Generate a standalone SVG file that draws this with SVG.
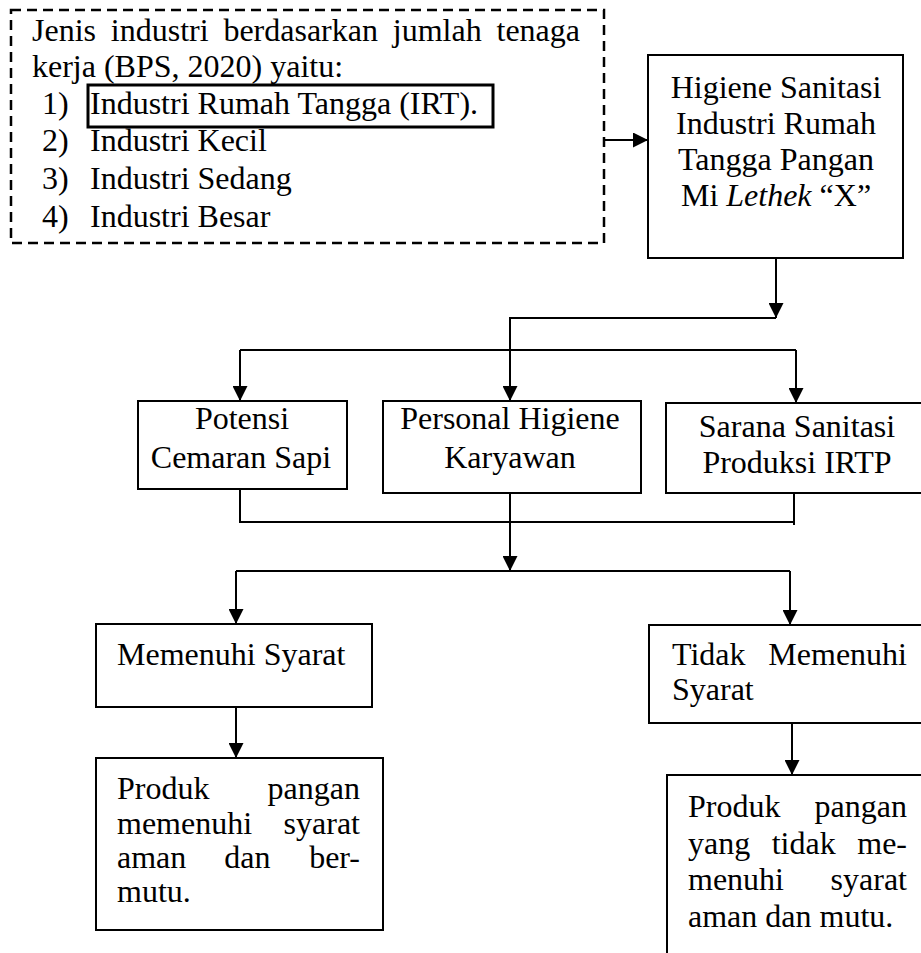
<svg xmlns="http://www.w3.org/2000/svg" width="921" height="953" viewBox="0 0 921 953">
<style>
text{font-family:"Liberation Serif","Times New Roman",serif;font-size:32px;fill:#000}
.box{fill:#fff;stroke:#000;stroke-width:2}
.dash{fill:#fff;stroke:#000;stroke-width:2.5;stroke-dasharray:10 6}
.hl{fill:none;stroke:#000;stroke-width:3}
.c{text-anchor:middle}
.e{text-anchor:end}
#connectors path{fill:none;stroke:#000;stroke-width:2}
</style>
<defs>
<marker id="ah" markerUnits="userSpaceOnUse" viewBox="0 0 14 14" markerWidth="15" markerHeight="15" refX="14" refY="7" orient="auto">
<path d="M0,0 L14,7 L0,14 z" fill="#000"/>
</marker>
</defs>
<rect width="921" height="953" fill="#fff"/>

<g id="connectors">
<path d="M604,140 H648" marker-end="url(#ah)"/>
<path d="M776,258 V318" marker-end="url(#ah)"/>
<path d="M776,318 H510 V401" marker-end="url(#ah)"/>
<path d="M240,350 H796"/>
<path d="M240,350 V401" marker-end="url(#ah)"/>
<path d="M796,350 V403" marker-end="url(#ah)"/>
<path d="M240,489 V522 H794 V493"/>
<path d="M794,522 V525"/>
<path d="M510,493 V571" marker-end="url(#ah)"/>
<path d="M236,571 H790"/>
<path d="M236,571 V624" marker-end="url(#ah)"/>
<path d="M790,571 V625" marker-end="url(#ah)"/>
<path d="M236,707 V758" marker-end="url(#ah)"/>
<path d="M792,723 V775" marker-end="url(#ah)"/>
</g>

<g id="jenis">
<rect class="dash" x="11" y="10" width="593" height="233"/>
<text y="41"><tspan x="32">Jenis</tspan><tspan x="110.8">industri</tspan><tspan x="223.4">berdasarkan</tspan><tspan x="392.8">jumlah</tspan><tspan x="496.5">tenaga</tspan></text>
<text x="32" y="77">kerja (BPS, 2020) yaitu:</text>
<text x="42" y="114">1)</text>
<text x="90" y="114">Industri Rumah Tangga (IRT).</text>
<rect class="hl" x="88" y="85" width="405" height="42"/>
<text x="42" y="151">2)</text>
<text x="90" y="151">Industri Kecil</text>
<text x="42" y="189">3)</text>
<text x="90" y="189">Industri Sedang</text>
<text x="42" y="227">4)</text>
<text x="90" y="227">Industri Besar</text>
</g>

<g id="higiene">
<rect class="box" x="648" y="55" width="255" height="203"/>
<text class="c" x="776" y="98">Higiene Sanitasi</text>
<text class="c" x="776" y="134">Industri Rumah</text>
<text class="c" x="776" y="170">Tangga Pangan</text>
<text class="c" x="776" y="206">Mi <tspan font-style="italic">Lethek</tspan> “X”</text>
</g>

<g id="potensi">
<rect class="box" x="138" y="401" width="209" height="88"/>
<text class="c" x="242" y="429">Potensi</text>
<text class="c" x="241" y="468">Cemaran Sapi</text>
</g>

<g id="personal">
<rect class="box" x="383" y="401" width="258" height="92"/>
<text class="c" x="510" y="429">Personal Higiene</text>
<text class="c" x="510" y="468">Karyawan</text>
</g>

<g id="sarana">
<rect class="box" x="666" y="403" width="262" height="90"/>
<text class="c" x="797" y="437">Sarana Sanitasi</text>
<text class="c" x="797" y="473">Produksi IRTP</text>
</g>

<g id="memenuhi">
<rect class="box" x="96" y="624" width="276" height="83"/>
<text x="117" y="665">Memenuhi Syarat</text>
</g>

<g id="tidak">
<rect class="box" x="649" y="625" width="280" height="98"/>
<text x="672" y="665">Tidak</text>
<text class="e" x="907" y="665">Memenuhi</text>
<text x="672" y="700">Syarat</text>
</g>

<g id="produk1">
<rect class="box" x="96" y="758" width="287" height="172"/>
<text x="117" y="799">Produk</text>
<text class="e" x="360" y="799">pangan</text>
<text x="117" y="834">memenuhi</text>
<text class="e" x="360" y="834">syarat</text>
<text x="117" y="868">aman</text>
<text x="224.3" y="868">dan</text>
<text class="e" x="360" y="868">ber-</text>
<text x="117" y="902">mutu.</text>
</g>

<g id="produk2">
<rect class="box" x="667" y="775" width="262" height="190"/>
<text x="688" y="817">Produk</text>
<text class="e" x="907" y="817">pangan</text>
<text x="688" y="854">yang</text>
<text x="771.7" y="854">tidak</text>
<text class="e" x="907" y="854">me-</text>
<text x="688" y="890">menuhi</text>
<text class="e" x="907" y="890">syarat</text>
<text x="688" y="927">aman dan mutu.</text>
</g>
</svg>
